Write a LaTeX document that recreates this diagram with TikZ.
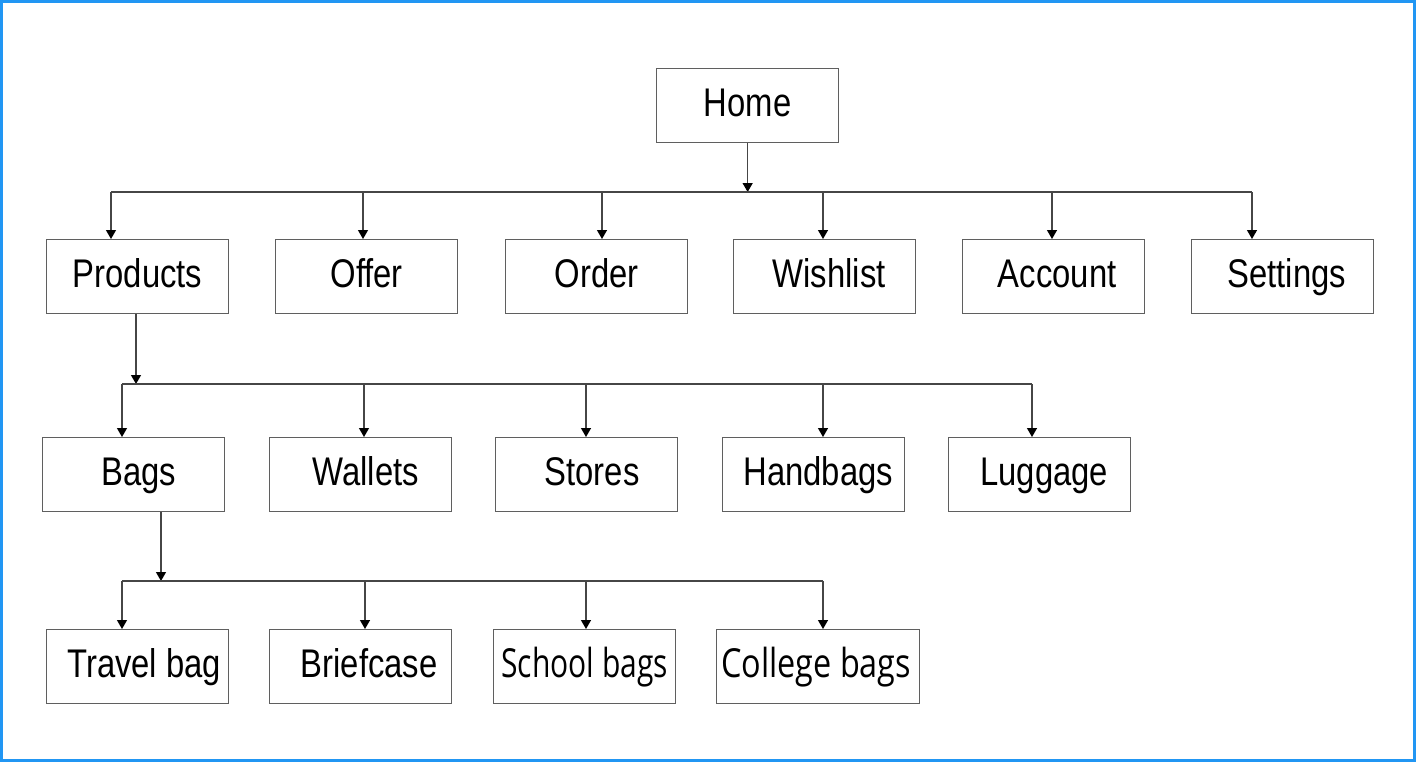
\documentclass[tikz,border=0pt]{standalone}
\usepackage{fontspec}
\setmainfont{Liberation Sans}[FakeStretch=0.82]
\newfontfamily\humanist{Open Sans}[FakeStretch=0.75]
\newfontfamily\humanistwide{Open Sans}[FakeStretch=0.81]
\usetikzlibrary{arrows.meta}
\definecolor{frameblue}{RGB}{33,150,243}
\definecolor{boxgray}{RGB}{95,95,95}
\definecolor{linegray}{RGB}{70,70,70}
\begin{document}
\begin{tikzpicture}[x=0.5bp,y=-0.5bp,
  pagebox/.style={draw=boxgray, line width=0.65bp, anchor=north west,
    minimum width=91bp, minimum height=36.75bp, inner sep=0pt,
    text height=14.5bp, text depth=3bp,
    font=\fontsize{20bp}{24bp}\selectfont},
  conn/.style={draw=linegray, line width=0.65bp},
  tip/.style={conn, -{Triangle[color=black, length=4.5bp, width=5bp]}}]

% outer frame
\useasboundingbox (0,0) rectangle (1416,762);
\draw[frameblue, line width=1.6bp] (1.5,1.5) rectangle (1414.5,760.5);

% top level
\node[pagebox] (home) at (656,68) {Home};

% second level
\node[pagebox] (products) at (46,239)   {Products};
\node[pagebox] (offer)    at (275,239)  {Offer};
\node[pagebox] (order)    at (505,239)  {Order};
\node[pagebox] (wishlist) at (733,239)  {\hspace*{4.5bp}Wishlist};
\node[pagebox] (account)  at (962,239)  {\hspace*{3.5bp}Account};
\node[pagebox] (settings) at (1191,239) {\hspace*{4bp}Settings};

% product categories
\node[pagebox] (bags)     at (42,437)  {\hspace*{5bp}Bags};
\node[pagebox] (wallets)  at (269,437) {\hspace*{5bp}Wallets};
\node[pagebox] (stores)   at (495,437) {\hspace*{5.5bp}Stores};
\node[pagebox] (handbags) at (722,437) {\hspace*{4.5bp}Handbags};
\node[pagebox] (luggage)  at (948,437) {\hspace*{4.5bp}Luggage};

% bag types
\node[pagebox] (travel)    at (46,629)  {\hspace*{6.5bp}Travel bag};
\node[pagebox] (briefcase) at (269,629) {\hspace*{8.5bp}Briefcase};
\node[pagebox] (school)    at (493,629) {\humanist School bags};
\node[pagebox, minimum width=101.5bp] (college) at (716,629) {\humanistwide College bags\hspace*{2bp}};

% bus below Home
\coordinate (j1)  at (746,192);
\coordinate (j1l) at (111,192);
\coordinate (j1r) at (1252,192);
\draw[tip] (home.south) -- (home.south |- j1);
\draw[conn] (j1l) -- (j1r);
\foreach \x/\n in {111/products,363/offer,602/order,823/wishlist,1052/account,1252/settings}{
  \coordinate (t\n) at (\x,192);
  \draw[tip] (t\n) -- (t\n |- \n.north);
}

% bus below Products
\coordinate (j2)  at (136,384);
\coordinate (j2l) at (122,384);
\coordinate (j2r) at (1032,384);
\draw[tip] (products.south -| j2) -- (j2);
\draw[conn] (j2l) -- (j2r);
\foreach \x/\n in {122/bags,364/wallets,586/stores,823/handbags,1032/luggage}{
  \coordinate (t\n) at (\x,384);
  \draw[tip] (t\n) -- (t\n |- \n.north);
}

% bus below Bags
\coordinate (j3)  at (161,581);
\coordinate (j3l) at (122,581);
\coordinate (j3r) at (823,581);
\draw[tip] (bags.south -| j3) -- (j3);
\draw[conn] (j3l) -- (j3r);
\foreach \x/\n in {122/travel,365/briefcase,586/school,823/college}{
  \coordinate (t\n) at (\x,581);
  \draw[tip] (t\n) -- (t\n |- \n.north);
}
\end{tikzpicture}
\end{document}
